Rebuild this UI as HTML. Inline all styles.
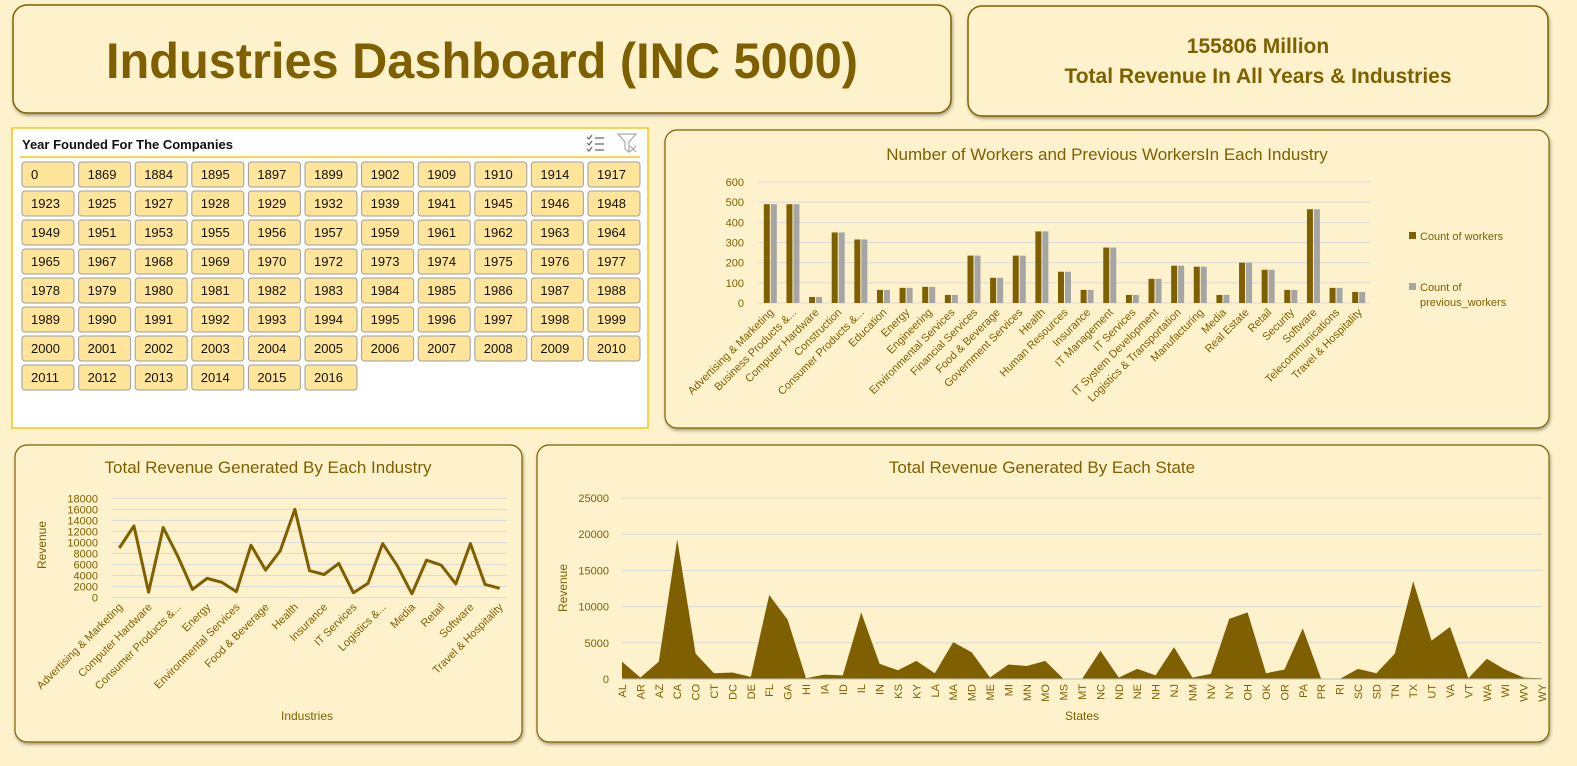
<!DOCTYPE html>
<html><head><meta charset="utf-8"><style>
body{margin:0;background:#fef2cc;font-family:"Liberation Sans",sans-serif;}
svg{display:block}
text{font-family:"Liberation Sans",sans-serif;fill:#7f6000}
</style></head><body>
<svg id="s" width="1577" height="766" viewBox="0 0 1577 766">
<defs><filter id="sh" x="-5%" y="-5%" width="110%" height="115%"><feDropShadow dx="1" dy="2" stdDeviation="1.5" flood-color="#000" flood-opacity="0.35"/></filter></defs>
<rect width="1577" height="766" fill="#fef2cc"/>
<g>
<rect x="13" y="5" width="938" height="108" rx="14" fill="#fef2cc" stroke="#7f6000" stroke-width="1.5" filter="url(#sh)"/>
<text x="482" y="78" text-anchor="middle" font-size="50" font-weight="bold" textLength="752" lengthAdjust="spacingAndGlyphs">Industries Dashboard (INC 5000)</text>
</g>
<g>
<rect x="968" y="6" width="580" height="110" rx="14" fill="#fef2cc" stroke="#7f6000" stroke-width="1.5" filter="url(#sh)"/>
<text x="1258" y="53" text-anchor="middle" font-size="21" font-weight="bold">155806 Million</text>
<text x="1258" y="83" text-anchor="middle" font-size="21" font-weight="bold">Total Revenue In All Years &amp; Industries</text>
</g>
<g id="slicer">
<rect x="12" y="128" width="636" height="300" fill="#fff" stroke="#f5c518" stroke-width="1.5"/>
<text x="22" y="149" font-size="13" font-weight="bold" style="fill:#111">Year Founded For The Companies</text>
<line x1="20" y1="157" x2="640" y2="157" stroke="#f5c518" stroke-width="1.5"/>
<g stroke="#666" stroke-width="1.2" fill="none"><path d="M587 137l2 2 3-4M587 143l2 2 3-4M587 149l2 2 3-4"/><path d="M595 138h9M595 144h9M595 150h9"/></g>
<g stroke="#aaa" stroke-width="1.2" fill="none"><path d="M618 134h18l-7 8v10l-4-3v-7z"/><path d="M630 146l6 6M636 146l-6 6"/></g>
</g>
<g>
<rect x="665" y="130" width="884" height="298" rx="12" fill="#fef2cc" stroke="#7f6000" stroke-width="1.2" filter="url(#sh)"/>
<text x="1107" y="160" text-anchor="middle" font-size="17">Number of Workers and Previous WorkersIn Each Industry</text>
<g id="barg"></g>
<rect x="1409" y="232" width="7" height="7" fill="#7f6000"/>
<text x="1420" y="240" font-size="11">Count of workers</text>
<rect x="1409" y="283" width="7" height="7" fill="#a5a5a5"/>
<text x="1420" y="291" font-size="11">Count of</text>
<text x="1420" y="306" font-size="11">previous_workers</text>
</g>
<g>
<rect x="15" y="445" width="507" height="297" rx="12" fill="#fef2cc" stroke="#7f6000" stroke-width="1.2" filter="url(#sh)"/>
<text x="268" y="473" text-anchor="middle" font-size="17">Total Revenue Generated By Each Industry</text>
<text transform="translate(46,545) rotate(-90)" text-anchor="middle" font-size="12">Revenue</text>
<text x="307" y="720" text-anchor="middle" font-size="12">Industries</text>
<g id="lineg"></g>
</g>
<g>
<rect x="537" y="445" width="1012" height="297" rx="12" fill="#fef2cc" stroke="#7f6000" stroke-width="1.2" filter="url(#sh)"/>
<text x="1042" y="473" text-anchor="middle" font-size="17">Total Revenue Generated By Each State</text>
<text transform="translate(567,588) rotate(-90)" text-anchor="middle" font-size="12">Revenue</text>
<text x="1082" y="720" text-anchor="middle" font-size="12">States</text>
<g id="areag"></g>
</g>
</svg>
<script>
const years=["0","1869","1884","1895","1897","1899","1902","1909","1910","1914","1917","1923","1925","1927","1928","1929","1932","1939","1941","1945","1946","1948","1949","1951","1953","1955","1956","1957","1959","1961","1962","1963","1964","1965","1967","1968","1969","1970","1972","1973","1974","1975","1976","1977","1978","1979","1980","1981","1982","1983","1984","1985","1986","1987","1988","1989","1990","1991","1992","1993","1994","1995","1996","1997","1998","1999","2000","2001","2002","2003","2004","2005","2006","2007","2008","2009","2010","2011","2012","2013","2014","2015","2016"];
const industries=["Advertising & Marketing","Business Products &...","Computer Hardware","Construction","Consumer Products &...","Education","Energy","Engineering","Environmental Services","Financial Services","Food & Beverage","Government Services","Health","Human Resources","Insurance","IT Management","IT Services","IT System Development","Logistics & Transportation","Manufacturing","Media","Real Estate","Retail","Security","Software","Telecommunications","Travel & Hospitality"];
const workers=[490,490,30,350,315,65,75,80,40,235,125,235,355,155,65,275,40,120,185,180,40,200,165,65,465,75,55];
const prevWorkers=[490,490,30,350,315,65,75,80,40,235,125,235,355,155,65,275,40,120,185,180,40,200,165,65,465,75,55];
const barTicks=[0,100,200,300,400,500,600];
const industryRevenue=[9000,13000,1000,12700,7500,1500,3500,2800,1100,9500,5000,8500,16000,4900,4200,6200,900,2600,9800,5800,700,6800,5900,2500,9800,2400,1700];
const lineTicks=[0,2000,4000,6000,8000,10000,12000,14000,16000,18000];
const states=["AL","AR","AZ","CA","CO","CT","DC","DE","FL","GA","HI","IA","ID","IL","IN","KS","KY","LA","MA","MD","ME","MI","MN","MO","MS","MT","NC","ND","NE","NH","NJ","NM","NV","NY","OH","OK","OR","PA","PR","RI","SC","SD","TN","TX","UT","VA","VT","WA","WI","WV","WY"];
const stateRevenue=[2400,200,2400,19300,3500,800,900,300,11600,8200,100,600,500,9200,2100,1200,2500,800,5100,3700,200,2000,1800,2500,0,0,3900,200,1400,500,4400,200,700,8300,9200,800,1300,7000,0,0,1400,800,3500,13500,5300,7200,100,2800,1300,200,100];
const areaTicks=[0,5000,10000,15000,20000,25000];

const NS="http://www.w3.org/2000/svg";
function mk(tag,attrs,parent,txt){const e=document.createElementNS(NS,tag);for(const k in attrs)e.setAttribute(k,attrs[k]);if(txt!==undefined)e.textContent=txt;parent.appendChild(e);return e;}

const sl=document.getElementById('slicer');
years.forEach((y,i)=>{const c=i%11,r=Math.floor(i/11);const x=22+c*56.6,yy=162+r*29;
 const g=mk('g',{},sl);
 
 
 mk('rect',{x:x,y:yy,width:52,height:25,rx:3,fill:'#ffe599',stroke:'#9e9e9e'},g);
 mk('text',{x:x+9,y:yy+17,'font-size':13,style:'fill:#111'},g,y);
});

const bg=document.getElementById('barg');
const bx0=759,bx1=1370,by0=303,by1=182,bmax=600;
const bw=(bx1-bx0)/industries.length;
const byS=v=>by0-(v/bmax)*(by0-by1);
barTicks.forEach(t=>{mk('line',{x1:bx0,x2:bx1,y1:byS(t),y2:byS(t),stroke:'#d9d9d9'},bg);
 const l=mk('text',{x:744,y:byS(t)+4,'text-anchor':'end','font-size':11},bg,t);
 
 });
industries.forEach((n,i)=>{const cx=bx0+(i+0.5)*bw;
 const r1=mk('rect',{x:cx-6.5,y:byS(workers[i]),width:6,height:by0-byS(workers[i]),fill:'#7f6000'},bg);
 
 
 const r2=mk('rect',{x:cx+0.5,y:byS(prevWorkers[i]),width:6,height:by0-byS(prevWorkers[i]),fill:'#a5a5a5'},bg);
 
 
 const t=mk('text',{transform:`translate(${cx+4},${by0+10}) rotate(-45)`,'text-anchor':'end','font-size':11},bg,n);
 
 });

const lg=document.getElementById('lineg');
const lx0=112,lx1=507,ly0=597.7,ly1=498.3,lmax=18000;
const lw=(lx1-lx0)/industryRevenue.length;
const lyS=v=>ly0-(v/lmax)*(ly0-ly1);
lineTicks.forEach(t=>{mk('line',{x1:lx0,x2:lx1,y1:lyS(t),y2:lyS(t),stroke:'#d9d9d9'},lg);
 const l=mk('text',{x:98,y:lyS(t)+4,'text-anchor':'end','font-size':11},lg,t);
 
 });
let pts=industryRevenue.map((v,i)=>`${lx0+(i+0.5)*lw},${lyS(v)}`).join(' ');
const pl=mk('polyline',{points:pts,fill:'none',stroke:'#7f6000','stroke-width':3,'stroke-linejoin':'round'},lg);


industries.forEach((n,i)=>{if(i%2)return;const cx=lx0+(i+0.5)*lw;
 const lab=n.replace(' Transportation','...');
 const t=mk('text',{transform:`translate(${cx+4},${ly0+10}) rotate(-45)`,'text-anchor':'end','font-size':11},lg,lab);
 
 });

const ag=document.getElementById('areag');
const ax0=622,ax1=1542,ay0=679,ay1=498,amax=25000;
const astep=(ax1-ax0)/(states.length-1);
const ayS=v=>ay0-(v/amax)*(ay0-ay1);
areaTicks.forEach(t=>{mk('line',{x1:ax0,x2:ax1,y1:ayS(t),y2:ayS(t),stroke:'#d9d9d9'},ag);
 const l=mk('text',{x:609,y:ayS(t)+4,'text-anchor':'end','font-size':11},ag,t);
 
 });
let ap=`M${ax0},${ay0} `+stateRevenue.map((v,i)=>`L${ax0+i*astep},${ayS(v)}`).join(' ')+` L${ax1},${ay0} Z`;
const ar=mk('path',{d:ap,fill:'#7f6000'},ag);


mk('line',{x1:ax0,x2:ax1,y1:ay0,y2:ay0,stroke:'#bfbfbf'},ag);
states.forEach((s,i)=>{const cx=ax0+i*astep;
 const t=mk('text',{transform:`translate(${cx+4},${ay0+5}) rotate(-90)`,'text-anchor':'end','font-size':11},ag,s);
 
 });
</script>
</body></html>
